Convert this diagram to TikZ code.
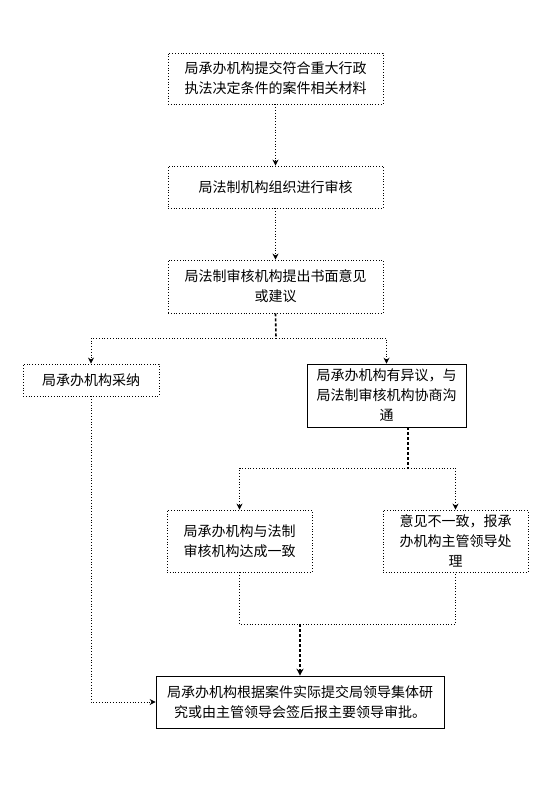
\documentclass[tikz,border=0pt]{standalone}
\usepackage{fontspec}
\newfontfamily\cjk{Noto Sans CJK SC}
\usetikzlibrary{arrows.meta,positioning,calc}

\begin{document}
\begin{tikzpicture}[x=1pt, y=-1pt,
    block/.style={rectangle, draw=black, dotted, line width=0.8pt,
                  minimum width=215pt, minimum height=42pt, inner sep=0pt,
                  align=center, font=\cjk\fontsize{14}{20}\selectfont},
    solidblock/.style={block, solid, line width=0.6pt},
    arrow/.style={->, >={Stealth[length=6pt, width=6pt]}, dotted, line width=0.8pt, black},
    link/.style={dotted, line width=0.8pt, black},
    trunk/.style={densely dashed, line width=1.6pt, black}
]
    \useasboundingbox[fill=white] (0,0) rectangle (552,790);

    \node[block, minimum height=51pt] (submit) at (275.5,78.5) {局承办机构提交符合重大行政\\执法决定条件的案件相关材料};
    \node[block] (review) at (275.5,187) {局法制机构组织进行审核};
    \node[block, minimum height=53pt] (opinion) at (275.5,286.5) {局法制审核机构提出书面意见\\或建议};
    \node[block, minimum width=136pt, minimum height=32pt] (adopt) at (91,380) {局承办机构采纳};
    \node[solidblock, minimum width=159pt, minimum height=63pt] (object) at (386.5,395.5) {局承办机构有异议，与\\局法制审核机构协商沟\\通};
    \node[block, minimum width=145pt, minimum height=62pt] (agree) at (239.5,541) {局承办机构与法制\\审核机构达成一致};
    \node[block, minimum width=145pt, minimum height=62pt] (disagree) at (455.5,541) {意见不一致，报承\\办机构主管领导处\\理};
    \node[solidblock, minimum width=288pt, minimum height=52pt] (final) at (300,702) {局承办机构根据案件实际提交局领导集体研\\究或由主管领导会签后报主要领导审批。};

    \coordinate (split1) at (276,338);
    \coordinate (split2) at (408,468);
    \coordinate (join) at (300,624);

    \draw[arrow] (submit) -- (review);
    \draw[arrow] (review) -- (opinion);
    \draw[trunk] (opinion.south) -- (split1);
    \draw[arrow] (split1) -| (adopt.north);
    \draw[arrow] (split1) -| (object.north);
    \draw[trunk] (object.south -| split2) -- (split2);
    \draw[arrow] (split2) -| (agree.north);
    \draw[arrow] (split2) -| (disagree.north);
    \draw[link] (agree.south) |- (join) -| (disagree.south);
    \draw[trunk, ->, >={Stealth[length=7pt, width=7pt]}] (join) -- (final.north);
    \draw[arrow] (adopt.south) |- (final.west);
\end{tikzpicture}
\end{document}
